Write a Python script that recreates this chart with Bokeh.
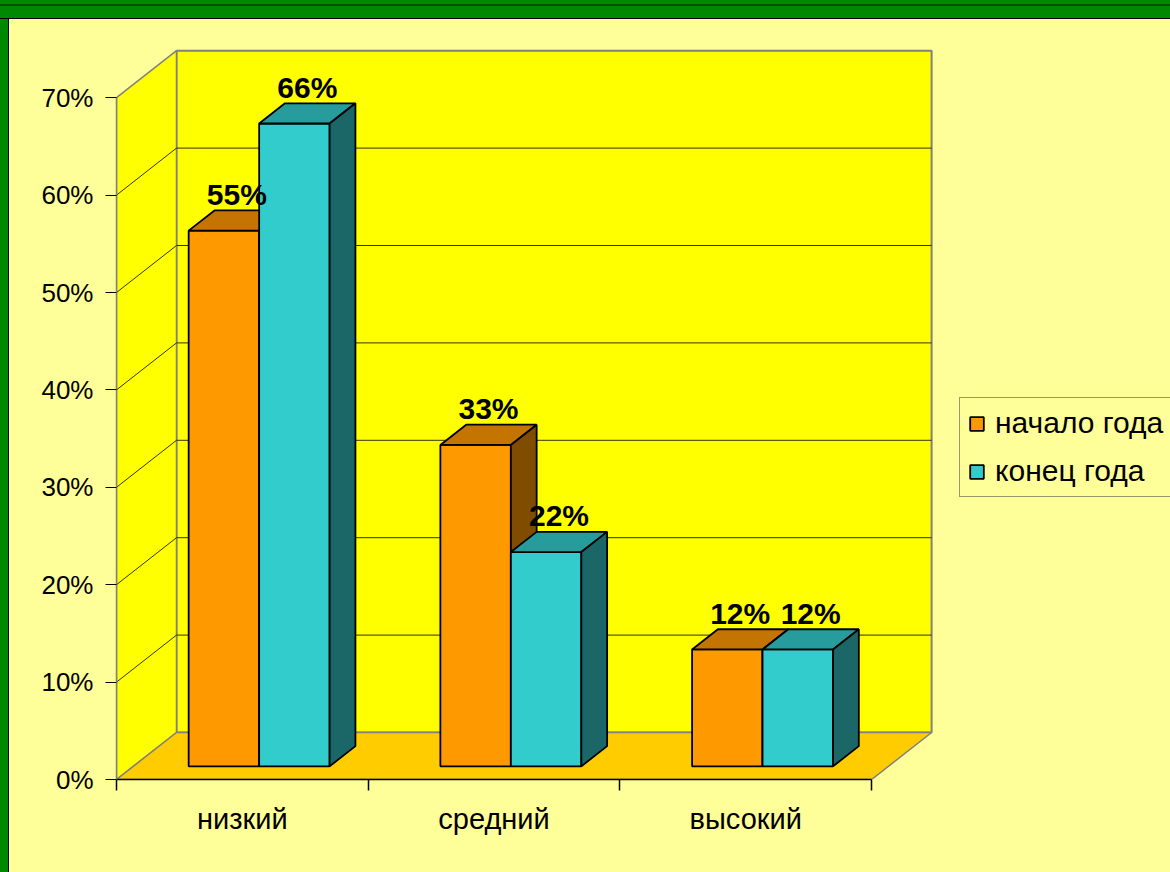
from bokeh.plotting import figure
from bokeh.models import (Range1d, FixedTicker, PrintfTickFormatter, Legend,
                          LegendItem, GlobalInlineStyleSheet)
from bokeh.core.properties import value
from bokeh.embed import file_html
from bokeh.resources import INLINE

# ---------------- data ----------------
categories = ["низкий", "средний", "высокий"]
series_names = ["начало года", "конец года"]
start_values = [55, 33, 12]
end_values = [66, 22, 12]
y_ticks = [0, 10, 20, 30, 40, 50, 60, 70]

# ---------------- style ----------------
FONT = "Liberation Sans"
PX_PER_CAT = 251.7          # pixels per category on the front plane
PX_PER_PCT = 9.74           # pixels per percent
DX = 60 / PX_PER_CAT        # wall depth, in category units
DY = 47 / PX_PER_PCT        # wall depth, in percent units
F0, F1 = 0.28, 0.71         # bar depth span as fraction of wall depth
BAR_W = 0.28
LABEL_GAP = 1.65
WALL = "#FFFF00"
FLOOR = "#FFCC00"
EDGE = "#808080"
GRID = "#333300"
PANEL = "#FFFF99"
face_colors = [
    ("#FF9900", "#C47400", "#7F4C00"),
    ("#33CCCC", "#269C9C", "#1B6666"),
]

FIG_W, FIG_H = 1161, 853
LEFT_B, BOTTOM_B = 107, 93

css = """
html, body { margin:0; padding:0; overflow:hidden; }
html { background-color:#FFFF99;
  background-image:
    linear-gradient(to bottom, #008800 0px, #008800 4px, #005500 4px, #005500 6px, #008800 6px, #008800 18px, #000000 18px, #000000 19px, transparent 19px),
    linear-gradient(to right, #008800 0px, #008800 8px, #000000 8px, #000000 9px, transparent 9px);
  background-repeat:no-repeat; background-size:100% 100%; }
body { padding:19px 0 0 9px; }
"""

n_cat = len(categories)
x_end = (FIG_W - LEFT_B) / PX_PER_CAT
y_end = (FIG_H - BOTTOM_B) / PX_PER_PCT

p = figure(width=FIG_W, height=FIG_H, output_backend="svg", toolbar_location=None,
           x_range=Range1d(0, x_end), y_range=Range1d(0, y_end),
           min_border_left=LEFT_B, min_border_bottom=BOTTOM_B,
           min_border_top=0, min_border_right=0,
           background_fill_color=PANEL, border_fill_color=PANEL,
           outline_line_color=None,
           stylesheets=[GlobalInlineStyleSheet(css=css)])
p.xgrid.visible = False
p.ygrid.visible = False

top = y_ticks[-1]
# back wall
p.patch([DX, n_cat + DX, n_cat + DX, DX], [DY, DY, top + DY, top + DY],
        fill_color=WALL, line_color=EDGE, line_width=2)
# side wall
p.patch([0, 0, DX, DX], [0, top, top + DY, DY],
        fill_color=WALL, line_color=EDGE, line_width=1.5)
# floor
p.patch([0, DX, n_cat + DX, n_cat], [0, DY, DY, 0],
        fill_color=FLOOR, line_color=EDGE, line_width=1.5)

# gridlines
gt = y_ticks[1:-1]
p.segment(x0=[DX] * len(gt), y0=[t + DY for t in gt],
          x1=[n_cat + DX] * len(gt), y1=[t + DY for t in gt],
          line_color=GRID, line_width=1)
p.segment(x0=[0] * len(gt), y0=gt, x1=[DX] * len(gt), y1=[t + DY for t in gt],
          line_color=GRID, line_width=1)

ax0, ay0 = DX * F0, DY * F0
ax1, ay1 = DX * F1, DY * F1

front_renderers = []
lab_x, lab_y, lab_t = [], [], []
for s, vals in enumerate([start_values, end_values]):
    fr_xs, fr_ys, tp_xs, tp_ys, sd_xs, sd_ys = [], [], [], [], [], []
    for c, v in enumerate(vals):
        xl = c + 0.5 - BAR_W + s * BAR_W
        xr = xl + BAR_W
        fr_xs.append([xl + ax0, xr + ax0, xr + ax0, xl + ax0])
        fr_ys.append([ay0, ay0, v + ay0, v + ay0])
        tp_xs.append([xl + ax0, xr + ax0, xr + ax1, xl + ax1])
        tp_ys.append([v + ay0, v + ay0, v + ay1, v + ay1])
        sd_xs.append([xr + ax0, xr + ax1, xr + ax1, xr + ax0])
        sd_ys.append([ay0, ay1, v + ay1, v + ay0])
        lab_x.append((xl + xr) / 2 + (ax0 + ax1) / 2)
        lab_y.append(v + ay1 + LABEL_GAP)
        lab_t.append(f"{v}%")
    fc, tc, sc = face_colors[s]
    r = p.patches(fr_xs, fr_ys, fill_color=fc, line_color="black", line_width=1.8)
    p.patches(tp_xs, tp_ys, fill_color=tc, line_color="black", line_width=1.8)
    p.patches(sd_xs, sd_ys, fill_color=sc, line_color="black", line_width=1.8)
    front_renderers.append(r)

p.text(x=lab_x, y=lab_y, text=lab_t, text_font=value(FONT), text_font_style="bold",
       text_font_size="30px", text_align="center", text_baseline="alphabetic",
       text_color="black")

# y axis
yax = p.yaxis[0]
yax.ticker = FixedTicker(ticks=y_ticks)
yax.formatter = PrintfTickFormatter(format="%d%%")
yax.bounds = (0, top)
yax.axis_line_color = EDGE
yax.axis_line_width = 1.5
yax.major_tick_out = 11
yax.major_tick_in = 0
yax.major_tick_line_color = "black"
yax.minor_tick_line_color = None
yax.major_label_standoff = 12
yax.major_label_text_font = FONT
yax.major_label_text_font_size = "26px"
yax.major_label_text_color = "black"

# x axis
xax = p.xaxis[0]
xax.ticker = FixedTicker(ticks=[c + 0.5 for c in range(n_cat)],
                         minor_ticks=list(range(n_cat + 1)))
xax.major_label_overrides = {c + 0.5: name for c, name in enumerate(categories)}
xax.bounds = (0, n_cat)
xax.axis_line_color = "black"
xax.axis_line_width = 1.5
xax.major_tick_out = 0
xax.major_tick_in = 0
xax.minor_tick_out = 11
xax.minor_tick_in = 0
xax.minor_tick_line_color = "black"
xax.minor_tick_line_width = 1.5
xax.major_label_standoff = 12
xax.major_label_text_font = FONT
xax.major_label_text_font_size = "29px"
xax.major_label_text_color = "black"

legend = Legend(items=[LegendItem(label=series_names[i], renderers=[front_renderers[i]])
                       for i in range(2)],
                location=(843, 282), margin=0, padding=8, spacing=14,
                label_height=32, glyph_width=17, glyph_height=17, label_standoff=10,
                label_text_font=FONT, label_text_font_size="30px",
                label_text_color="black",
                border_line_color="#333333", border_line_width=1,
                background_fill_color=PANEL, background_fill_alpha=1.0)
p.add_layout(legend, "center")

open("out.html", "w").write(file_html(p, INLINE))
